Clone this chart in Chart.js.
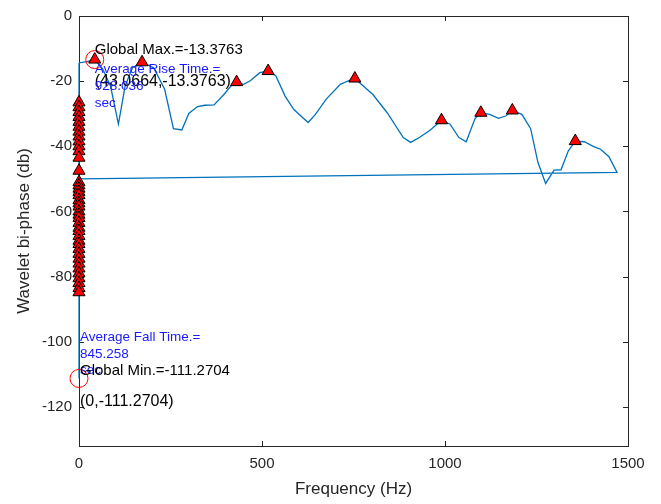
<!DOCTYPE html>
<html>
<head>
<meta charset="utf-8">
<script src="https://cdn.jsdelivr.net/npm/chart.js@4.4.0/dist/chart.umd.min.js"></script>
<style>
html, body { margin: 0; padding: 0; background: #fff; }
</style>
</head>
<body>
<canvas id="waveletChart" width="661" height="504"></canvas>
<script>
// spectrum curve (Hz, dB)
const freqHz = [0, 21.5, 43.07, 64.6, 86.1, 107.7, 126, 146, 172.3, 204, 234, 258, 281, 300, 324, 344,
    369, 396, 415, 430.7, 450, 469, 494, 516.8, 538, 563, 587, 626, 646, 675, 714, 744, 753.7, 803,
    842, 886, 906, 930, 960, 990.4, 1014, 1038, 1058, 1082, 1098, 1122, 1146, 1166, 1184, 1210, 1234,
    1254, 1275, 1298, 1317, 1337, 1356, 1381, 1406, 1425, 1448, 1470];
const biphaseDb = [-14.4, -14.0, -13.3763, -16.2, -21.5, -33.2, -21.5, -15.9, -14.2, -15.9, -22.5, -34.6,
    -35, -29.9, -27.8, -27.4, -27.3, -24.1, -21.5, -20.3, -21, -19.8, -17.4, -16.9, -18.4, -24.6, -28.7,
    -32.7, -30.2, -25.6, -21, -19.5, -19.2, -24.1, -29.7, -37.3, -38.8, -37.3, -35, -32, -33.2, -37.3,
    -38.6, -31.5, -29.7, -30.2, -31.4, -30.7, -29, -30.2, -34.6, -45, -51.4, -47.3, -47.2, -41.4, -38.4,
    -38.6, -40.1, -40.9, -43.2, -48];
// samples that fall back to 0 Hz at the end of the record
const zeroTailDb = [-50, -111.2704, -14.4];

// detected peaks
const peakFreqHz = [43.07, 172.3, 430.7, 516.8, 753.7, 990.4, 1098, 1184, 1356];
const peakDb = [-13.3763, -14.2, -20.3, -16.9, -19.2, -32, -29.7, -29, -38.4];
const zeroPeakDb = [-26.5, -28, -29.5, -31, -32.5, -34, -35.5, -37, -38.5, -40, -41.5, -43.5, -47.5,
    -51, -52, -53, -54, -55, -56.5, -57.5, -58.5, -60, -61, -62, -63.5, -65, -66, -67.5, -69, -70,
    -71.5, -73, -74.5, -76, -77.5, -79, -80.5, -82, -83.5, -84.8];

const globalMax = [43.0664, -13.3763];
const globalMin = [0, -111.2704];
const riseTime = '928.036';
const fallTime = '845.258';

const xTicks = [0, 500, 1000, 1500];
const yTicks = [0, -20, -40, -60, -80, -100, -120];

const axisColor = '#262626';
const fontFamily = '"Liberation Sans", Arial, Helvetica, sans-serif';

document.addEventListener("DOMContentLoaded", function () {
    initWaveletChart();
});

// box round the plot with small inward ticks, like the original figure
const axesBox = {
    id: 'axesBox',
    beforeDatasetsDraw(chart) {
        const { ctx, chartArea: a, scales: { x, y } } = chart;
        ctx.save();
        ctx.strokeStyle = axisColor;
        ctx.lineWidth = 1;
        ctx.strokeRect(a.left + 0.5, a.top + 0.5, a.right - a.left, a.bottom - a.top);
        ctx.beginPath();
        xTicks.forEach(function (v) {
            const px = Math.round(x.getPixelForValue(v)) + 0.5;
            ctx.moveTo(px, a.bottom);
            ctx.lineTo(px, a.bottom - 5);
            ctx.moveTo(px, a.top);
            ctx.lineTo(px, a.top + 5);
        });
        yTicks.forEach(function (v) {
            const py = Math.round(y.getPixelForValue(v)) + 0.5;
            ctx.moveTo(a.left, py);
            ctx.lineTo(a.left + 5, py);
            ctx.moveTo(a.right, py);
            ctx.lineTo(a.right - 5, py);
        });
        ctx.stroke();
        ctx.restore();
    }
};

const annotations = {
    id: 'annotations',
    afterDatasetsDraw(chart) {
        const { ctx, scales: { x, y } } = chart;

        function label(text, xv, yv, size, color, dx) {
            ctx.font = size + 'px ' + fontFamily;
            ctx.fillStyle = color;
            ctx.fillText(text, x.getPixelForValue(xv) + (dx || 0), y.getPixelForValue(yv));
        }

        ctx.save();
        ctx.textAlign = 'left';
        ctx.textBaseline = 'middle';

        label('Global Max.=' + globalMax[1], globalMax[0], -10.4, 15, '#000');
        label('(' + globalMax[0] + ',' + globalMax[1] + ')', globalMax[0], -20, 16, '#000');
        label('Average Rise Time.=', globalMax[0], -16.5, 13.5, '#1a1aff');
        label(riseTime, globalMax[0], -21.7, 13.5, '#1a1aff');
        label('sec', globalMax[0], -26.8, 13.5, '#1a1aff');

        label('Average Fall Time.=', globalMin[0], -98.5, 13.5, '#1a1aff', 1);
        label(fallTime, globalMin[0], -103.7, 13.5, '#1a1aff', 1);
        label('sec', globalMin[0], -108.9, 13.5, '#1a1aff', 1);
        label('Global Min.=' + globalMin[1], globalMin[0], -108.9, 15, '#000', 1);
        label('(' + globalMin[0] + ',' + globalMin[1] + ')', globalMin[0], -118.3, 16, '#000', 1);
        ctx.restore();
    }
};

function plainTick(value) {
    return String(value);
}

function initWaveletChart() {
    const curvePts = freqHz.map(function (f, i) { return { x: f, y: biphaseDb[i] }; })
        .concat(zeroTailDb.map(function (v) { return { x: 0, y: v }; }));
    const peakPts = peakFreqHz.map(function (f, i) { return { x: f, y: peakDb[i] }; })
        .concat(zeroPeakDb.map(function (v) { return { x: 0, y: v }; }));
    const extremePts = [{ x: globalMax[0], y: globalMax[1] }, { x: globalMin[0], y: globalMin[1] }];

    const data = {
        datasets: [{
            label: 'extremes',
            data: extremePts,
            pointStyle: 'circle',
            pointRadius: 9,
            pointBorderWidth: 1,
            pointBorderColor: '#ff0000',
            pointBackgroundColor: 'rgba(0,0,0,0)',
            showLine: false,
            clip: false,
            order: 0
        }, {
            label: 'peaks',
            data: peakPts,
            pointStyle: 'triangle',
            pointRadius: 7,
            pointBorderWidth: 1,
            pointBorderColor: '#000000',
            pointBackgroundColor: '#ff0000',
            showLine: false,
            clip: false,
            order: 1
        }, {
            label: 'bi-phase',
            data: curvePts,
            showLine: true,
            borderColor: '#0072BD',
            borderWidth: 1.3,
            pointRadius: 0,
            tension: 0,
            clip: false,
            order: 2
        }]
    };

    const options = {
        responsive: false,
        animation: false,
        layout: { padding: { top: 13, right: 33, left: 0, bottom: 0 } },
        plugins: {
            legend: { display: false },
            tooltip: { enabled: false }
        },
        scales: {
            x: {
                type: 'linear',
                min: 0,
                max: 1500,
                afterBuildTicks: function (scale) {
                    scale.ticks = xTicks.map(function (v) { return { value: v }; });
                },
                afterFit: function (scale) { scale.height = 58; },
                grid: { display: false, drawTicks: false },
                border: { display: false },
                ticks: {
                    color: axisColor,
                    font: { family: fontFamily, size: 15 },
                    padding: 9,
                    maxRotation: 0,
                    callback: plainTick
                },
                title: {
                    display: true,
                    text: 'Frequency (Hz)',
                    color: axisColor,
                    font: { family: fontFamily, size: 17 },
                    padding: { top: 3, bottom: 4 }
                }
            },
            y: {
                type: 'linear',
                min: -132,
                max: 0,
                afterBuildTicks: function (scale) {
                    scale.ticks = yTicks.map(function (v) { return { value: v }; });
                },
                afterFit: function (scale) { scale.width = 79; },
                grid: { display: false, drawTicks: false },
                border: { display: false },
                ticks: {
                    color: axisColor,
                    font: { family: fontFamily, size: 15 },
                    padding: 7,
                    callback: plainTick
                },
                title: {
                    display: true,
                    text: 'Wavelet bi-phase (db)',
                    color: axisColor,
                    font: { family: fontFamily, size: 17 },
                    padding: { top: 14, bottom: 4 }
                }
            }
        }
    };

    const ctx = document.getElementById('waveletChart').getContext('2d');
    new Chart(ctx, {
        type: 'scatter',
        data: data,
        options: options,
        plugins: [axesBox, annotations]
    });
}
</script>
</body>
</html>
